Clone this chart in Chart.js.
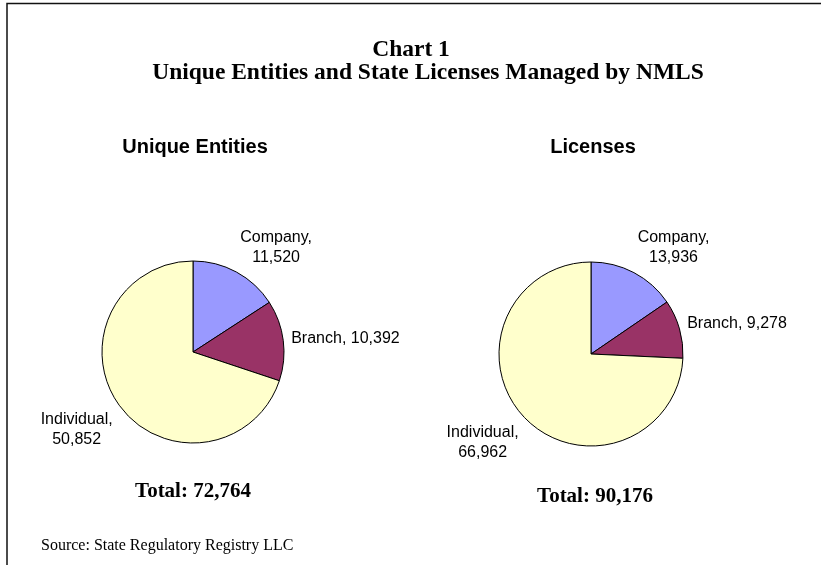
<!DOCTYPE html>
<html>
<head>
<meta charset="utf-8">
<script src="https://cdn.jsdelivr.net/npm/chart.js@4"></script>
<style>
	html, body { margin: 0; padding: 0; background: #fff; }
	#page { position: relative; width: 821px; height: 565px; overflow: hidden; }
	#page canvas { position: absolute; left: 0; top: 0; }
</style>
</head>
<body>
<div id="page">
	<canvas id="entitiesChart" width="821" height="565"></canvas>
	<canvas id="licensesChart" width="821" height="565"></canvas>
</div>
<script>
const categories = ['Company', 'Branch', 'Individual'];
const entityValues = [11520, 10392, 50852];
const licenseValues = [13936, 9278, 66962];
const pieTitles = ['Unique Entities', 'Licenses'];
const wrappedCategories = ['Company', 'Individual'];
const sliceColors = ['#9999FF', '#993366', '#FFFFCC'];

const fmt = v => v.toLocaleString('en-US');
const sum = arr => arr.reduce((a, b) => a + b, 0);

// Excel-like outside-end labels, placed off each arc's mid angle
const sliceLabels = {
	id: 'sliceLabels',
	afterDatasetsDraw(chart) {
		const ctx = chart.ctx;
		const meta = chart.getDatasetMeta(0);
		const values = chart.data.datasets[0].data;
		ctx.save();
		ctx.font = '16px "Liberation Sans", Arial, sans-serif';
		ctx.fillStyle = '#000';
		ctx.textAlign = 'center';
		ctx.textBaseline = 'middle';
		meta.data.forEach((arc, i) => {
			const name = chart.data.labels[i];
			const lines = wrappedCategories.includes(name)
				? [name + ',', fmt(values[i])]
				: [name + ', ' + fmt(values[i])];
			const mid = (arc.startAngle + arc.endAngle) / 2;
			const r = arc.outerRadius + 8;
			const px = arc.x + Math.cos(mid) * r;
			const py = arc.y + Math.sin(mid) * r;
			const w = Math.max(...lines.map(l => ctx.measureText(l).width));
			const lh = 20;
			const h = lines.length * lh;
			const c = -Math.sin(mid); // cosine from 12 o'clock
			let f = c >= 0 ? (1 + c) / 2 : Math.max(0, (1 + 2 * c) / 2);
			const left = Math.cos(mid) >= 0 ? px : px - w;
			const top = py - h * f;
			lines.forEach((l, k) => ctx.fillText(l, left + w / 2, top + lh * k + lh / 2));
		});
		ctx.restore();
	}
};

// heading above and total below each pie
const pieText = {
	id: 'pieText',
	afterDraw(chart, args, opts) {
		const ctx = chart.ctx;
		ctx.save();
		ctx.fillStyle = '#000';
		ctx.textAlign = 'center';
		ctx.textBaseline = 'alphabetic';
		ctx.font = 'bold 20px "Liberation Sans", Arial, sans-serif';
		ctx.fillText(opts.title, opts.cx, 153);
		ctx.font = 'bold 21px "Liberation Serif", "Times New Roman", serif';
		ctx.fillText('Total: ' + fmt(sum(chart.data.datasets[0].data)), opts.totalX, opts.totalY);
		ctx.restore();
	}
};

// page frame, main title and source note (drawn once, on the first chart)
const pageText = {
	id: 'pageText',
	beforeDraw(chart) {
		const ctx = chart.ctx;
		ctx.save();
		ctx.fillStyle = '#fff';
		ctx.fillRect(0, 0, chart.width, chart.height);
		ctx.strokeStyle = '#111';
		ctx.lineWidth = 1.5;
		ctx.beginPath();
		ctx.moveTo(7, 565);
		ctx.lineTo(7, 3.5);
		ctx.lineTo(821, 3.5);
		ctx.stroke();
		ctx.fillStyle = '#000';
		ctx.textAlign = 'center';
		ctx.font = 'bold 23.5px "Liberation Serif", "Times New Roman", serif';
		ctx.fillText('Chart 1', 411, 56);
		ctx.fillText('Unique Entities and State Licenses Managed by NMLS', 428, 79);
		ctx.textAlign = 'left';
		ctx.font = '16px "Liberation Serif", "Times New Roman", serif';
		ctx.fillText('Source: State Regulatory Registry LLC', 41, 550);
		ctx.restore();
	}
};

function makePie(id, values, title, padding, textOpts, extra) {
	return new Chart(document.getElementById(id), {
		type: 'pie',
		data: {
			labels: categories,
			datasets: [{
				data: values,
				backgroundColor: sliceColors,
				borderColor: '#000',
				borderWidth: 1,
				hoverBorderWidth: 1,
				hoverOffset: 0
			}]
		},
		options: {
			responsive: false,
			animation: false,
			events: [],
			layout: { padding: padding },
			plugins: {
				legend: { display: false },
				tooltip: { enabled: false },
				pieText: Object.assign({ title: title }, textOpts)
			}
		},
		plugins: extra.concat([sliceLabels, pieText])
	});
}

makePie('entitiesChart', entityValues, pieTitles[0],
	{ left: 101.5, top: 260.5, right: 536.5, bottom: 121.5 },
	{ cx: 195, totalX: 193, totalY: 497 }, [pageText]);

makePie('licensesChart', licenseValues, pieTitles[1],
	{ left: 498.5, top: 261.5, right: 137.5, bottom: 118.5 },
	{ cx: 593, totalX: 595, totalY: 502 }, []);
</script>
</body>
</html>
